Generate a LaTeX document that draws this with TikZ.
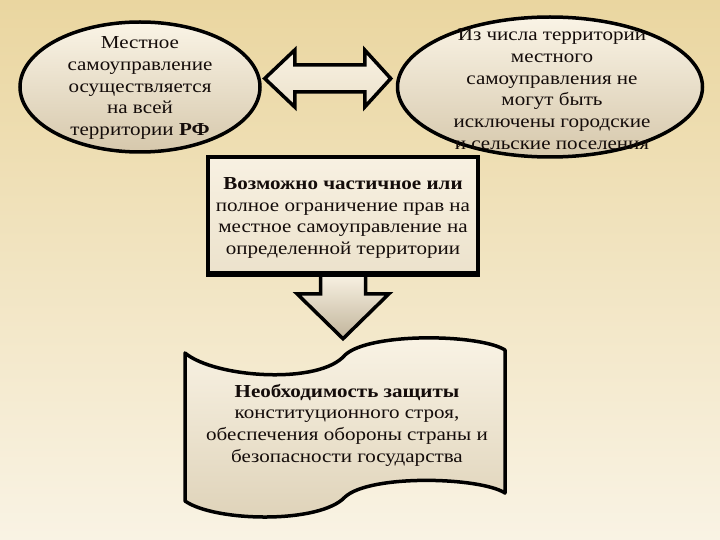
\documentclass[tikz,border=0pt]{standalone}
\usepackage{fontspec}
\setmainfont{Liberation Serif}[FakeStretch=1.15]
\usetikzlibrary{shapes.geometric,calc}
\definecolor{bgtop}{RGB}{234,214,160}
\definecolor{bgbot}{RGB}{249,243,228}
\definecolor{creamA}{RGB}{250,244,230}
\definecolor{tanA}{RGB}{214,200,172}
\definecolor{tanC}{RGB}{222,210,184}
\definecolor{creamB}{RGB}{248,241,226}
\definecolor{tanB}{RGB}{236,226,204}
\definecolor{ink}{RGB}{20,12,10}
\tikzset{
  blob/.style={draw=black, line width=3.5pt, shape=ellipse, inner sep=0pt,
    top color=creamA, bottom color=tanA},
  txt/.style={align=center, text=ink, inner sep=0pt,
    font=\fontsize{18.3}{21.7}\selectfont},
  boxstyle/.style={draw=black, line width=3.5pt, rectangle, inner sep=0pt,
    top color=creamB, bottom color=tanB},
  arrowstyle/.style={draw=black, line width=3.5pt, line join=miter,
    top color=creamB, bottom color=tanB},
  downarrow/.style={draw=black, line width=3.5pt, line join=miter,
    top color=creamB, bottom color=tanA!90!black},
  scrollstyle/.style={draw=black, line width=3.5pt, line join=round,
    top color=creamA, bottom color=tanC}
}
\begin{document}
\begin{tikzpicture}[x=1pt,y=-1pt]
\shade[top color=bgtop, bottom color=bgbot] (0,0) rectangle (720,540);
\useasboundingbox (0,0) rectangle (720,540);

% ellipses
\node[blob, minimum width=240pt, minimum height=130pt] (L) at (140,87) {};
\node[txt] (Lt) at (140,88) {Местное\\самоуправление\\осуществляется\\на всей\\территории \textbf{РФ}};
\node[blob, minimum width=305pt, minimum height=140pt] (R) at (550,87) {};
\node[txt] (Rt) at (552,89) {Из числа территории\\местного\\самоуправления не\\могут быть\\исключены городские\\и сельские поселения};

% double arrow between ellipses
\coordinate (la) at ($(L.east)+(3,-8.5)$);
\coordinate (ra) at ($(R.west)+(-5,-8.5)$);
\draw[arrowstyle] (la) -- ($(la)+(30,-28.5)$) -- ($(la)+(30,-13.5)$)
  -- ($(ra)+(-26,-13.5)$) -- ($(ra)+(-26,-28.5)$) -- (ra)
  -- ($(ra)+(-26,28.5)$) -- ($(ra)+(-26,13.5)$)
  -- ($(la)+(30,13.5)$) -- ($(la)+(30,28.5)$) -- cycle;

% middle box
\node[boxstyle, minimum width=270pt, minimum height=116pt] (B) at (343,215) {};
\node[txt] (Bt) at (343,218) {\textbf{Возможно частичное или}\\полное ограничение прав на\\местное самоуправление на\\определенной территории};

% down arrow
\draw[downarrow] ($(B.south)+(-22.5,0)$) -- ($(B.south)+(-22.5,19)$)
  -- ($(B.south)+(-46,19)$) -- ($(B.south)+(0,64)$)
  -- ($(B.south)+(46,19)$) -- ($(B.south)+(22.5,19)$)
  -- ($(B.south)+(22.5,0)$) -- cycle;
\draw[black, line width=3.5pt] (B.south west) -- (B.south east);

% scroll / wave
\draw[scrollstyle] (185,353) .. controls (215,378) and (320,385) .. (345,355)
  .. controls (370,332) and (480,334) .. (505,350) -- (505,493)
  .. controls (480,477) and (370,474) .. (345,497)
  .. controls (320,524) and (215,522) .. (185,501) -- cycle;
\node[txt] (S) at (347,425) {\textbf{Необходимость защиты}\\конституционного строя,\\обеспечения обороны страны и\\безопасности государства};
\end{tikzpicture}
\end{document}
